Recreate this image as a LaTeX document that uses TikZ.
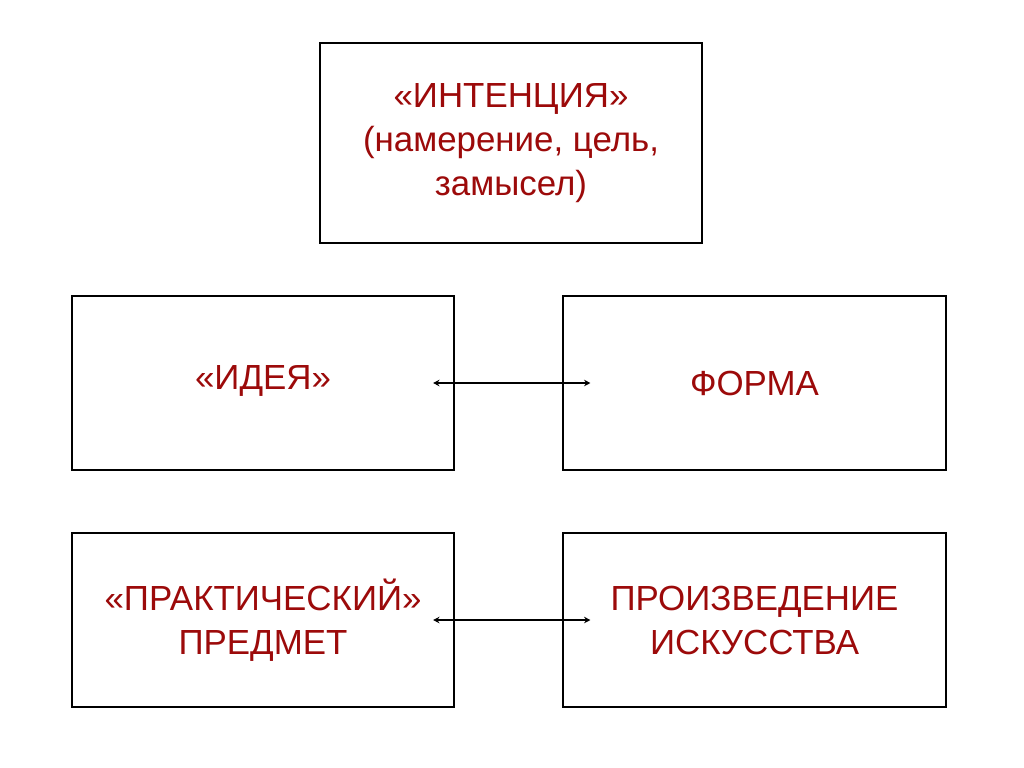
\documentclass[tikz,border=0pt]{standalone}
\usepackage{fontspec}
\setmainfont{Liberation Sans}
\usepackage{tikz}
\usetikzlibrary{positioning,arrows.meta}
\definecolor{label}{HTML}{9C0A0A}

\begin{document}
\begin{tikzpicture}[
  x=0.025cm, y=-0.025cm,
  every node/.style={font=\fontsize{24.8}{31.3}\selectfont, text=label},
  frame/.style={
    draw=black, line width=1.4pt, fill=white, align=center,
    minimum width=9.55cm, minimum height=4.35cm, inner sep=3pt,
  },
  link/.style={{Stealth[length=1.6mm,width=1.6mm]}-{Stealth[length=1.6mm,width=1.6mm]},
    line width=1pt, black, shorten <=-0.55cm, shorten >=-0.7cm},
]
  \useasboundingbox (0,0) rectangle (1024,768);

  % Top: intention
  \node[frame, minimum height=5cm] (intent) at (511, 143)
    {«ИНТЕНЦИЯ»\\(намерение, цель,\\замысел)};

  % Middle row
  \node[frame] (idea)  at (263, 383)   {\raisebox{0.25cm}{«ИДЕЯ»}};
  \node[frame] (forma) at (754.5, 383) {ФОРМА};

  % Bottom row
  \node[frame] (thing) at (263, 620)   {«ПРАКТИЧЕСКИЙ»\\ПРЕДМЕТ};
  \node[frame] (work)  at (754.5, 620) {ПРОИЗВЕДЕНИЕ\\ИСКУССТВА};

  \draw[link] (idea.east)  -- (forma.west);
  \draw[link] (thing.east) -- (work.west);
\end{tikzpicture}
\end{document}
